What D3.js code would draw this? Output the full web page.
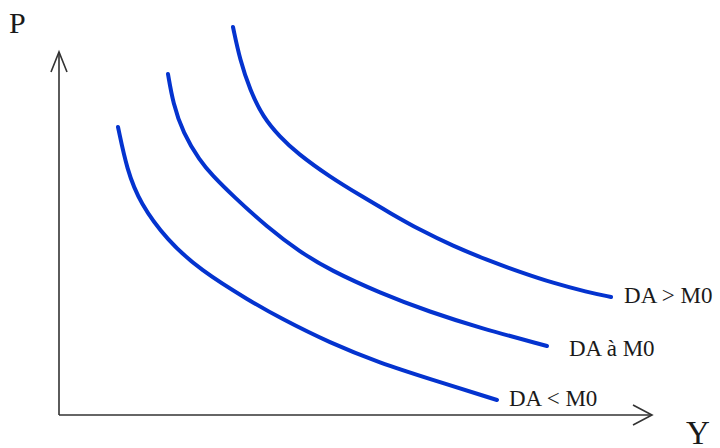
<!DOCTYPE html>
<html>
<head>
<meta charset="utf-8">
<script src="https://cdn.jsdelivr.net/npm/d3@7"></script>
<style>
  html, body { margin: 0; padding: 0; background: #fff; }
  svg { display: block; }
  text { font-family: "Liberation Serif", "Times New Roman", serif; fill: #1a1a1a; }
</style>
</head>
<body>
<svg id="chart" width="720" height="448"></svg>
<script>
// Aggregate demand curves (P against Y) for three money-supply cases
const curveNames = ["DA < M0", "DA à M0", "DA > M0"];

const yValues1 = [9.95, 11.47, 13.66, 18.21, 23.78, 32.21, 37.27, 45.70, 54.13, 62.56, 73.86];
const pValues1 = [79.34, 67.49, 58.40, 48.21, 39.94, 31.40, 26.72, 19.83, 14.33, 9.92, 4.13];

const yValues2 = [18.38, 19.22, 20.91, 23.78, 25.80, 29.34, 35.08, 40.64, 45.70, 54.13, 62.56, 71.00, 82.29];
const pValues2 = [93.94, 85.95, 77.69, 69.97, 66.12, 60.33, 51.79, 44.90, 39.94, 33.61, 28.37, 23.97, 19.01];

const yValues3 = [29.34, 30.52, 32.21, 34.40, 37.27, 40.13, 45.70, 51.26, 55.82, 60.88, 66.44, 72.18, 77.74, 83.31, 89.04, 93.09];
const pValues3 = [106.89, 97.80, 89.53, 82.09, 76.58, 72.18, 65.56, 60.06, 55.65, 50.96, 46.56, 42.70, 39.39, 36.36, 33.88, 32.51];

const axisLabels = ["P", "Y"];

const svg = d3.select("#chart");

const x = d3.scaleLinear().domain([0, 100]).range([59, 652]);
const y = d3.scaleLinear().domain([0, 100]).range([415, 52]);

const series = [
  { name: curveNames[0], xs: yValues1, ps: pValues1, dx: 12, dy: 6 },
  { name: curveNames[1], xs: yValues2, ps: pValues2, dx: 22, dy: 10 },
  { name: curveNames[2], xs: yValues3, ps: pValues3, dx: 13, dy: 6 }
];

// Axes with open arrowheads
const axisColor = "#333";
const ax = svg.append("g")
  .attr("fill", "none")
  .attr("stroke", axisColor)
  .attr("stroke-width", 1.6);

ax.append("line")
  .attr("x1", x(0)).attr("y1", y(0))
  .attr("x2", x(0)).attr("y2", y(100));
ax.append("line")
  .attr("x1", x(0)).attr("y1", y(0))
  .attr("x2", x(100)).attr("y2", y(0));

ax.append("path")
  .attr("d", `M${x(0) - 8},${y(100) + 20} L${x(0)},${y(100)} L${x(0) + 8},${y(100) + 20}`);
ax.append("path")
  .attr("d", `M${x(100) - 19},${y(0) - 10} L${x(100)},${y(0)} L${x(100) - 19},${y(0) + 10}`);

svg.append("text")
  .attr("x", 9).attr("y", 33)
  .attr("font-size", 30)
  .text(axisLabels[0]);
svg.append("text")
  .attr("x", 686).attr("y", 444)
  .attr("font-size", 33)
  .text(axisLabels[1]);

// Curves, smoothed through the sampled points
const line = d3.line()
  .x(d => x(d[0]))
  .y(d => y(d[1]))
  .curve(d3.curveBasis);

series.forEach(s => {
  const pts = s.xs.map((v, i) => [v, s.ps[i]]);
  svg.append("path")
    .datum(pts)
    .attr("d", line)
    .attr("fill", "none")
    .attr("stroke", "#0433cf")
    .attr("stroke-width", 4)
    .attr("stroke-linecap", "round");

  const last = pts[pts.length - 1];
  svg.append("text")
    .attr("x", x(last[0]) + s.dx)
    .attr("y", y(last[1]) + s.dy)
    .attr("font-size", 23)
    .text(s.name);
});
</script>
</body>
</html>
